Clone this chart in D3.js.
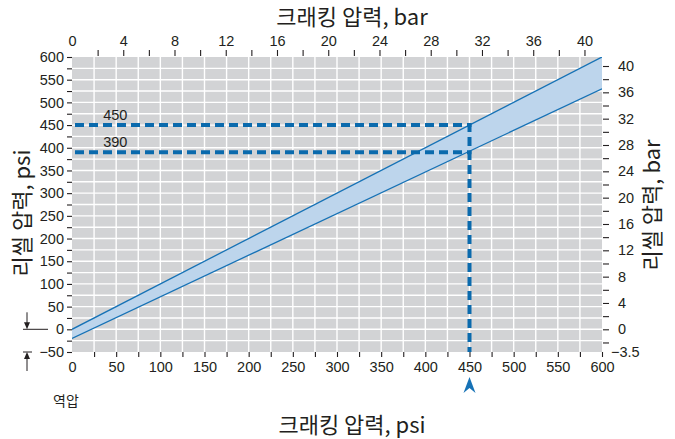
<!DOCTYPE html>
<html><head><meta charset="utf-8">
<script src="https://cdn.jsdelivr.net/npm/d3@7"></script>
<style>
body{margin:0;background:#fff;}
svg text{font-family:"Liberation Sans",Arial,sans-serif;fill:#231f20;}
.kr{font-family:"Noto Sans CJK KR","Liberation Sans",sans-serif;}
</style></head>
<body><svg id="c" width="675" height="439"></svg>
<script>
// ---- data ----
const PSI_PER_BAR = 14.5038;
const psiLabelTicks = [0,50,100,150,200,250,300,350,400,450,500,550,600];
const psiLeftLabelTicks = [-50,0,50,100,150,200,250,300,350,400,450,500,550,600];
const barLabelTicks = [0,4,8,12,16,20,24,28,32,36,40];
const crackingPsi = [0, 600];
const resealUpperPsi = [0, 600];
const resealLowerPsi = [-20, 530];
const markerCracking = 450;
const markerReseal = [450, 390];
const titleTop = "크래킹 압력, bar";
const titleBottom = "크래킹 압력, psi";
const titleLeft = "리씰 압력, psi";
const titleRight = "리씰 압력, bar";
const noteText = "역압";

const FS = 14.5;
const svg = d3.select("#c");
const L=72,R=602,T=57,B=352;
const x = d3.scaleLinear().domain([0,600]).range([L,R]);
const y = d3.scaleLinear().domain([-50,600]).range([B,T]);
const xBar = d3.scaleLinear().domain([0,600/PSI_PER_BAR]).range([L,R]);
const yBar = d3.scaleLinear().domain([-50/PSI_PER_BAR,600/PSI_PER_BAR]).range([B,T]);

svg.append("rect").attr("x",L).attr("y",T).attr("width",R-L).attr("height",B-T).attr("fill","#d2d3d5");
svg.append("clipPath").attr("id","clip").append("rect").attr("x",L).attr("y",T).attr("width",R-L).attr("height",B-T);

const band = crackingPsi.map((c,i)=>({c, u:resealUpperPsi[i], l:resealLowerPsi[i]}));
const g = svg.append("g").attr("clip-path","url(#clip)");

const gx = d3.range(25,600,25), gy = d3.range(-25,600,25);
g.selectAll(".vg").data(gx).join("line").attr("x1",d=>x(d)).attr("x2",d=>x(d)).attr("y1",T).attr("y2",B)
 .attr("stroke","#fff").attr("stroke-width",1.4);
g.selectAll(".hg").data(gy).join("line").attr("y1",d=>y(d)).attr("y2",d=>y(d)).attr("x1",L).attr("x2",R)
 .attr("stroke","#fff").attr("stroke-width",1.4);

g.append("path").datum(band)
 .attr("d", d3.area().x(d=>x(d.c)).y0(d=>y(d.l)).y1(d=>y(d.u)))
 .attr("fill","#bdd5ec");

g.append("path").datum(band).attr("d",d3.line().x(d=>x(d.c)).y(d=>y(d.u))).attr("stroke","#1672b6").attr("stroke-width",1.3).attr("fill","none");
g.append("path").datum(band).attr("d",d3.line().x(d=>x(d.c)).y(d=>y(d.l))).attr("stroke","#1672b6").attr("stroke-width",1.3).attr("fill","none");

const dashC = "#0a6aad";
markerReseal.forEach(v=>{
  svg.append("line").attr("x1",x(0)+3).attr("x2",x(markerCracking)+2).attr("y1",y(v)).attr("y2",y(v))
    .attr("stroke",dashC).attr("stroke-width",4).attr("stroke-dasharray","9,5");
  svg.append("text").attr("x",x(49)).attr("y",y(v)-5).attr("font-size",FS).attr("text-anchor","middle").text(v);
});
svg.append("line").attr("x1",x(markerCracking)).attr("x2",x(markerCracking))
  .attr("y1",y(d3.max(markerReseal))-2).attr("y2",B)
  .attr("stroke",dashC).attr("stroke-width",4).attr("stroke-dasharray","9,5");
const ax = x(markerCracking);
svg.append("path").attr("d",`M${ax},377 L${ax+6},393 L${ax},388 L${ax-6},393 Z`).attr("fill","#1672b6");

function styleAxis(sel){
  sel.select(".domain").remove();
  sel.selectAll(".tick line").attr("stroke","#231f20").attr("stroke-width",1.1);
  sel.selectAll(".tick text").attr("font-size",FS).attr("fill","#231f20").attr("font-family","Liberation Sans, Arial, sans-serif");
}
const fmtPsi = d => (d%50===0 ? (d<0?"\u2212"+(-d):String(d)) : "");
svg.append("g").attr("transform",`translate(0,${B})`)
 .call(d3.axisBottom(x).tickValues(d3.range(25,601,25)).tickFormat(()=>"").tickSize(5))
 .call(styleAxis);
svg.append("g").attr("transform",`translate(0,${B})`)
 .call(d3.axisBottom(x).tickValues(psiLabelTicks).tickSize(0).tickPadding(10).tickFormat(d=>d))
 .call(styleAxis);
svg.append("g").attr("transform",`translate(${L},0)`)
 .call(d3.axisLeft(y).tickValues(d3.range(-50,601,25)).tickSize(5).tickPadding(3).tickFormat(fmtPsi))
 .call(styleAxis);
svg.append("g").attr("transform",`translate(0,${T-1})`)
 .call(d3.axisTop(xBar).tickValues(d3.range(2,41,2)).tickFormat(()=>"").tickSize(6))
 .call(styleAxis);
svg.append("g").attr("transform",`translate(0,${T})`)
 .call(d3.axisTop(xBar).tickValues(barLabelTicks).tickSize(0).tickPadding(11).tickFormat(d=>d))
 .call(styleAxis);
svg.append("g").attr("transform",`translate(${R+1},0)`)
 .call(d3.axisRight(yBar).tickValues(d3.range(-2,41,2)).tickSize(6).tickPadding(9).tickFormat(d=>d%4===0?d:""))
 .call(styleAxis);
svg.append("text").attr("x",R+9).attr("y",yBar(-3.5)).attr("dy","0.35em").attr("font-size",FS).text("\u22123.5");

svg.append("text").attr("class","kr").attr("x",352).attr("y",25).attr("text-anchor","middle").attr("font-size",22).text(titleTop);
svg.append("text").attr("class","kr").attr("x",352).attr("y",433).attr("text-anchor","middle").attr("font-size",22).text(titleBottom);
svg.append("text").attr("class","kr").attr("transform","translate(30,213) rotate(-90)").attr("text-anchor","middle").attr("font-size",22).text(titleLeft);
svg.append("text").attr("class","kr").attr("transform","translate(660,205) rotate(-90)").attr("text-anchor","middle").attr("font-size",22).text(titleRight);

const k="#231f20";
const y0=y(0), yn=y(-50);
svg.append("line").attr("x1",23).attr("x2",48).attr("y1",y0).attr("y2",y0).attr("stroke",k).attr("stroke-width",1);
svg.append("line").attr("x1",27).attr("x2",27).attr("y1",y0-17).attr("y2",y0-4).attr("stroke",k).attr("stroke-width",1);
svg.append("path").attr("d",`M24,${y0-7} L27,${y0} L30,${y0-7} Z`).attr("fill",k);
svg.append("line").attr("x1",23).attr("x2",32).attr("y1",yn).attr("y2",yn).attr("stroke",k).attr("stroke-width",1);
svg.append("line").attr("x1",27).attr("x2",27).attr("y1",yn+4).attr("y2",yn+19).attr("stroke",k).attr("stroke-width",1);
svg.append("path").attr("d",`M24,${yn+7} L27,${yn} L30,${yn+7} Z`).attr("fill",k);
svg.append("text").attr("class","kr").attr("x",53).attr("y",406).attr("font-size",14).attr("fill","#444").text(noteText);
</script></body></html>
